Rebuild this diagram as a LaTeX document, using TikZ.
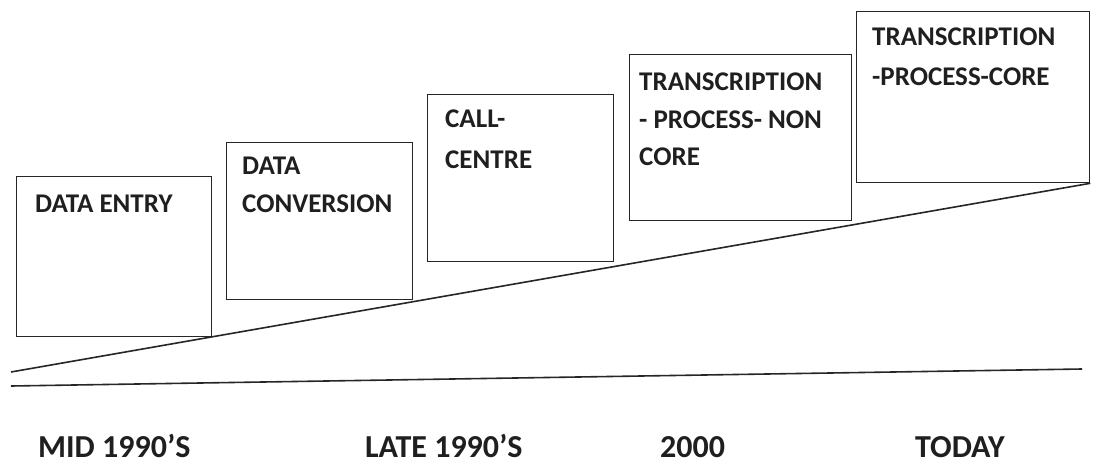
\documentclass[tikz,border=0pt]{standalone}
\usepackage{fontspec}
\setmainfont{Carlito}
\begin{document}
\begin{tikzpicture}[x=1pt,y=-1pt,
  stagebox/.style={draw=black!85,line width=1.3pt,inner sep=0pt,anchor=north west},
  boxtext/.style={anchor=base west,inner sep=0pt,align=left,font=\fontsize{27}{39}\selectfont\bfseries,text=black!88},
  eralabel/.style={anchor=base west,inner sep=0pt,text depth=0pt,font=\fontsize{32}{36}\selectfont\bfseries,text=black!88},
  trendline/.style={draw=black!85,line width=1.6pt}]
\useasboundingbox (0,0) rectangle (1094,465);
% boxes
\node[stagebox,minimum width=195pt,minimum height=160pt] (b1) at (16,176) {};
\node[stagebox,minimum width=186pt,minimum height=157pt] (b2) at (226,142) {};
\node[stagebox,minimum width=186pt,minimum height=167pt] (b3) at (427,94) {};
\node[stagebox,minimum width=222pt,minimum height=166pt] (b4) at (629,54) {};
\node[stagebox,minimum width=233pt,minimum height=171pt] (b5) at (856,11) {};
% box texts (anchored at the baseline of the last line)
\node[boxtext] (t1) at (35,212) {DATA ENTRY};
\node[boxtext,font=\fontsize{27}{38}\selectfont\bfseries] (t2) at (242,212) {DATA\\CONVERSION};
\node[boxtext,font=\fontsize{27}{41}\selectfont\bfseries] (t3) at (445,169) {CALL-\\CENTRE};
\node[boxtext,font=\fontsize{27}{37.5}\selectfont\bfseries] (t4) at (639,166) {TRANSCRIPTION\\- PROCESS- NON\\CORE};
\node[boxtext,font=\fontsize{27}{40}\selectfont\bfseries] (t5) at (872,86) {TRANSCRIPTION\\-PROCESS-CORE};
% trend lines
\coordinate (s0) at (11,372);
\coordinate (l0) at (11,386);
\coordinate (l1) at (1082,369);
\draw[trendline] (s0) -- (b5.south east);
\draw[trendline] (l0) -- (l1);
% era labels
\node[eralabel] (e1) at (38,457) {MID 1990’S};
\node[eralabel] (e2) at (365,457) {LATE 1990’S};
\node[eralabel] (e3) at (660,457) {2000};
\node[eralabel] (e4) at (915,457) {TODAY};
\end{tikzpicture}
\end{document}
